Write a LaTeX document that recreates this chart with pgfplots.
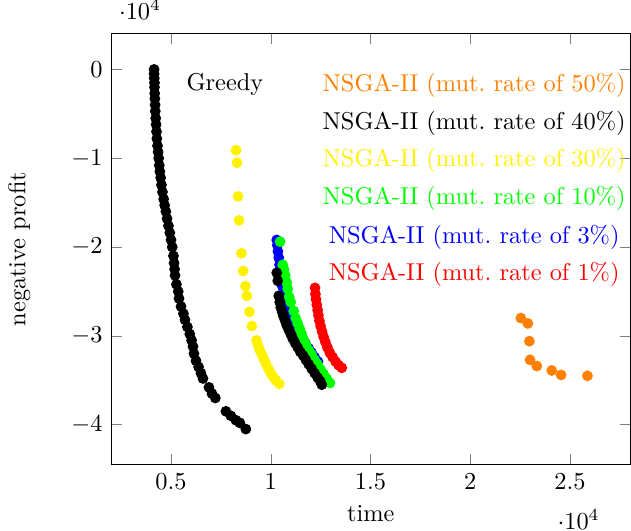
\documentclass[border=0pt]{standalone}
\usepackage{pgfplots}
\pgfplotsset{compat=1.18}
\begin{document}
\begin{tikzpicture}
\begin{axis}[
  scale only axis,
  width=213pt, height=177pt,
  xmin=2000, xmax=28040,
  ymin=-44520, ymax=4070,
  xtick={5000,10000,15000,20000,25000},
  ytick={-40000,-30000,-20000,-10000,0},
  xlabel={time},
  ylabel={negative profit},
  ylabel shift=10pt,
  every axis plot/.append style={only marks, mark=*, mark size=2pt},
]
% mut. rate 50%
\addplot[color=orange, mark options={fill=orange}] coordinates {
  (22540,-28000) (22890,-28600) (22970,-30600) (23000,-32700)
  (23340,-33400) (24090,-33900) (24560,-34400) (25880,-34500)
};
% mut. rate 1%
\addplot[color=red, mark options={fill=red}] coordinates {
  (12220,-24600) (12240,-25300) (12270,-25900) (12310,-26500)
  (12350,-27100) (12390,-27700) (12440,-28300) (12500,-28900)
  (12570,-29500) (12650,-30100) (12740,-30700) (12840,-31300)
  (12960,-31900) (13100,-32400) (13250,-32900) (13400,-33300)
  (13560,-33600)
};
% mut. rate 3%
\addplot[color=blue, mark options={fill=blue}] coordinates {
  (10300,-19200) (10330,-19800) (10360,-20500) (10400,-21200)
  (10440,-22000) (10480,-22800) (10530,-23600) (10580,-24400)
  (10650,-25200) (10750,-26000) (10880,-26800) (11000,-27500)
  (11150,-28300) (11300,-29000) (11450,-29700) (11600,-30300)
  (11750,-30900) (11900,-31400) (12050,-31900) (12200,-32400)
  (12370,-32900)
};
% mut. rate 10%
\addplot[color=green, mark options={fill=green}] coordinates {
  (10470,-19400) (10600,-22000) (10660,-22500) (10730,-23200)
  (10800,-24000) (10850,-24700) (10920,-25600) (11000,-26200)
  (11150,-27200) (11250,-28000) (11350,-28600) (11450,-29200)
  (11550,-29800) (11650,-30400) (11770,-31000) (11900,-31600)
  (12050,-32100) (12200,-32700) (12350,-33200) (12500,-33800)
  (12650,-34300) (12800,-34800) (12970,-35300)
};
% mut. rate 40%
\addplot[color=black, mark options={fill=black}] coordinates {
  (10300,-22900) (10350,-23800) (10400,-25500) (10450,-26200)
  (10500,-26800) (10570,-27300) (10640,-27800) (10720,-28300)
  (10800,-28800) (10900,-29300) (11000,-29800) (11100,-30300)
  (11220,-30800) (11350,-31300) (11480,-31800) (11620,-32200)
  (11760,-32700) (11900,-33200) (12050,-33700) (12200,-34200)
  (12350,-34700) (12480,-35100) (12560,-35500)
};
% mut. rate 30%
\addplot[color=yellow, mark options={fill=yellow}] coordinates {
  (8260,-9100) (8310,-10500) (8360,-14300) (8410,-17000)
  (8530,-20700) (8620,-22700) (8730,-24400) (8800,-25500)
  (8930,-27300) (9050,-28900) (9280,-30500) (9360,-31100)
  (9450,-31600) (9550,-32100) (9650,-32600) (9750,-33100)
  (9880,-33700) (10000,-34200) (10120,-34600) (10250,-35000)
  (10430,-35400)
};
% Greedy
\addplot[color=black, mark options={fill=black}] coordinates {
  (4150,0) (4150,-500) (4160,-1000) (4170,-1500) (4170,-2000)
  (4180,-2700) (4190,-3300) (4200,-4000) (4210,-4700) (4230,-5500)
  (4250,-6200) (4270,-7000) (4290,-7800) (4320,-8600) (4350,-9300)
  (4380,-10000) (4410,-10800) (4440,-11500) (4480,-12200) (4520,-13000)
  (4570,-13800) (4630,-14600) (4680,-15300) (4740,-16000) (4800,-16800)
  (4870,-17600) (4940,-18400) (5000,-19200) (5060,-20000) (5120,-21000)
  (5150,-21800) (5180,-22500) (5200,-23200) (5270,-24200) (5360,-25000)
  (5400,-25800) (5500,-26700) (5620,-27500) (5700,-28200) (5820,-29000)
  (5940,-29800) (6030,-30500) (6100,-31200) (6150,-32000) (6250,-32800)
  (6380,-33500) (6500,-34200) (6600,-34800) (6900,-35800) (7050,-36500)
  (7220,-37000) (7750,-38500) (8000,-39000) (8250,-39500) (8450,-39800)
  (8750,-40500)
};
\node[anchor=center] at (axis cs:7700,-1700) {Greedy};
\node[anchor=center, text=orange] at (axis cs:20200,-1780) {NSGA-II (mut.\ rate of 50\%)};
\node[anchor=center, text=black] at (axis cs:20200,-6110) {NSGA-II (mut.\ rate of 40\%)};
\node[anchor=center, text=yellow] at (axis cs:20200,-10250) {NSGA-II (mut.\ rate of 30\%)};
\node[anchor=center, text=green] at (axis cs:20200,-14580) {NSGA-II (mut.\ rate of 10\%)};
\node[anchor=center, text=blue] at (axis cs:20200,-18920) {NSGA-II (mut.\ rate of 3\%)};
\node[anchor=center, text=red] at (axis cs:20200,-23050) {NSGA-II (mut.\ rate of 1\%)};
\end{axis}
\end{tikzpicture}
\end{document}
